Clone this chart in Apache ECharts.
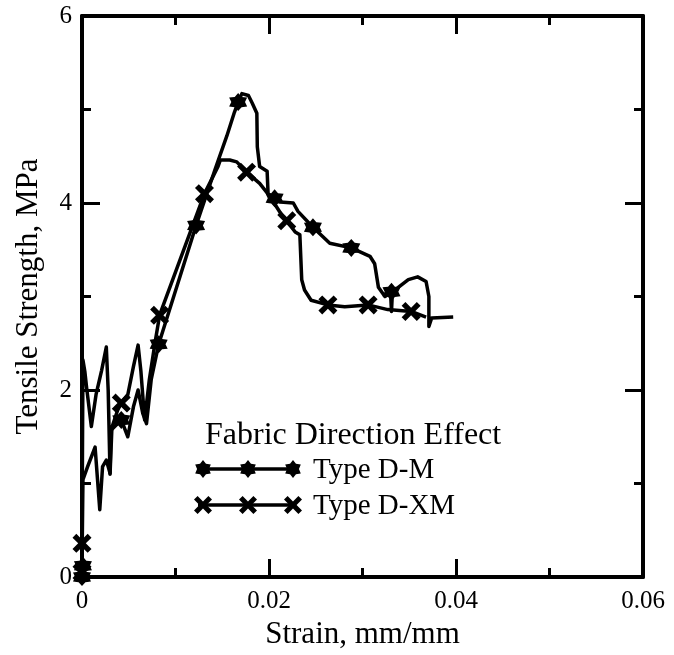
<!DOCTYPE html>
<html>
<head>
<meta charset="utf-8">
<script src="https://cdn.jsdelivr.net/npm/echarts@6/dist/echarts.min.js"></script>
<style>html,body{margin:0;padding:0;background:#fff;}#c{width:674px;height:655px;}</style>
</head>
<body>
<div id="c"></div>
<script>
// ---- data (strain mm/mm, tensile strength MPa) ----
const dmStrain = [0,0,0.0001,0.0006,0.0014,0.0019,0.0022,0.0026,0.0030,0.0031,0.0042,0.0049,0.0055,0.0060,0.0065,0.0069,0.0074,0.0082,0.0122,0.0142,0.0155,0.0163,0.0167,0.0171,0.0178,0.0182,0.0187,0.01875,0.0190,0.0198,0.0199,0.0206,0.0212,0.0226,0.0231,0.0247,0.0265,0.0288,0.0308,0.0313,0.0317,0.0324,0.0330,0.0331,0.0332,0.0349,0.0359,0.0368,0.0371,0.0371,0.0374,0.0397];
const dmStress = [0,0.12,1.04,1.18,1.39,0.72,1.18,1.25,1.11,1.57,1.68,1.50,1.82,2.00,1.75,1.64,2.11,2.49,3.76,4.35,4.72,4.97,5.08,5.17,5.15,5.07,4.96,4.60,4.39,4.34,4.10,4.05,4.01,4.00,3.91,3.74,3.57,3.52,3.43,3.35,3.10,3.00,3.04,2.84,3.05,3.18,3.21,3.16,3.00,2.68,2.77,2.78];
const dxmStrain = [0,0,0.0001,0.0003,0.0005,0.0010,0.0015,0.0021,0.0026,0.0028,0.0030,0.0032,0.0038,0.0042,0.0049,0.0055,0.0060,0.0063,0.0067,0.0072,0.0078,0.0083,0.0131,0.01455,0.0148,0.0158,0.01655,0.0176,0.0190,0.0201,0.0215,0.0219,0.0228,0.0233,0.0235,0.0238,0.0245,0.0263,0.0281,0.0306,0.0327,0.0352,0.0368];
const dxmStress = [0,0.36,2.32,2.20,2.02,1.61,1.95,2.21,2.46,2.00,1.10,1.60,1.78,1.86,1.95,2.25,2.48,2.20,1.68,2.11,2.50,2.80,4.10,4.39,4.46,4.46,4.44,4.33,4.21,4.07,3.85,3.81,3.69,3.66,3.18,3.07,2.96,2.91,2.89,2.91,2.86,2.84,2.78];
// marker positions
const dmMarkStrain = [0,0.0001,0.0042,0.0082,0.0122,0.0167,0.0206,0.0247,0.0288,0.0331];
const dmMarkStress = [0,0.12,1.68,2.49,3.76,5.08,4.05,3.74,3.52,3.05];
const dxmMarkStrain = [0,0,0.0042,0.0083,0.0131,0.0176,0.0219,0.0263,0.0306,0.0352];
const dxmMarkStress = [0.05,0.36,1.86,2.80,4.10,4.33,3.81,2.91,2.91,2.84];
// axis ticks
const xTicks = [0,0.02,0.04,0.06];
const yTicks = [0,2,4,6];
const legendTitle = 'Fabric Direction Effect';
const seriesNames = ['Type D-M','Type D-XM'];

const zip = (a,b)=>a.map((v,i)=>[v,b[i]]);
const STAR_PTS = [[0,-10],[3.3,-5.7],[8.66,-5],[6.6,0],[8.66,5],[3.3,5.7],[0,10],[-3.3,5.7],[-8.66,5],[-6.6,0],[-8.66,-5],[-3.3,-5.7]];
const CROSS_PTS = [[-10,-6],[-6,-10],[0,-4],[6,-10],[10,-6],[4,0],[10,6],[6,10],[0,4],[-6,10],[-10,6],[-4,0]];
const toPath = pts => 'path://M' + pts.map(p=>p[0]+','+p[1]).join(' L') + ' Z';
const STAR = toPath(STAR_PTS);
const CROSS = toPath(CROSS_PTS);
const FONT = '"Liberation Serif","Times New Roman",serif';

function axisCommon(showLabel){
  return {
    axisLine:{show:true,onZero:false,lineStyle:{color:'#000',width:4}},
    axisTick:{show:true,inside:true,length:18,lineStyle:{color:'#000',width:3}},
    minorTick:{show:true,splitNumber:2,length:9,lineStyle:{color:'#000',width:3}},
    splitLine:{show:false},
    minorSplitLine:{show:false},
    axisLabel:{show:showLabel,color:'#000',fontFamily:FONT,fontSize:25}
  };
}

const chart = echarts.init(document.getElementById('c'),null,{renderer:'canvas'});
const xa = (pos,show)=>Object.assign({type:'value',min:0,max:0.06,interval:0.02,position:pos,gridIndex:0},axisCommon(show));
const ya = (pos,show)=>Object.assign({type:'value',min:0,max:6,interval:2,position:pos,gridIndex:0},axisCommon(show));
const xb = xa('bottom',true);
xb.axisLabel.margin = 12;
xb.axisLabel.formatter = v=> xTicks.includes(v)? String(v):'';
xb.name = 'Strain, mm/mm';
xb.nameLocation = 'middle';
xb.nameGap = 42;
xb.nameTextStyle = {color:'#000',fontFamily:FONT,fontSize:31};
const yl = ya('left',true);
yl.axisLabel.margin = 10;
yl.axisLabel.formatter = v=> yTicks.includes(v)? String(v):'';
yl.name = 'Tensile Strength, MPa';
yl.nameLocation = 'middle';
yl.nameGap = 38;
yl.nameTextStyle = {color:'#000',fontFamily:FONT,fontSize:31};

function legendMarker(pts,cx,cy,size){
  const s = size/20;
  return {type:'polygon',shape:{points:pts.map(p=>[cx+p[0]*s,cy+p[1]*s])},style:{fill:'#000'},z:100};
}
const lgX0=198,lgX1=295,lgY=[469,505];
const graphic = [
  {type:'text',x:205,y:436,style:{text:legendTitle,font:'32px '+FONT,fill:'#000',textVerticalAlign:'middle'},z:100},
  {type:'line',shape:{x1:lgX0,y1:lgY[0],x2:lgX1,y2:lgY[0]},style:{stroke:'#000',lineWidth:3.5},z:100},
  {type:'line',shape:{x1:lgX0,y1:lgY[1],x2:lgX1,y2:lgY[1]},style:{stroke:'#000',lineWidth:3.5},z:100},
  legendMarker(STAR_PTS,203,lgY[0],18),legendMarker(STAR_PTS,248,lgY[0],18),legendMarker(STAR_PTS,293,lgY[0],18),
  legendMarker(CROSS_PTS,203,lgY[1],18),legendMarker(CROSS_PTS,248,lgY[1],18),legendMarker(CROSS_PTS,293,lgY[1],18),
  {type:'text',x:313,y:lgY[0]+1,style:{text:seriesNames[0],font:'29px '+FONT,fill:'#000',textVerticalAlign:'middle'},z:100},
  {type:'text',x:313,y:lgY[1]+1,style:{text:seriesNames[1],font:'29px '+FONT,fill:'#000',textVerticalAlign:'middle'},z:100}
];

chart.setOption({
  animation:false,
  backgroundColor:'#fff',
  grid:{left:82,top:16,width:561,height:561,containLabel:false},
  xAxis:[xb, xa('top',false)],
  yAxis:[yl, ya('right',false)],
  graphic:graphic,
  series:[
    {name:seriesNames[0],type:'line',data:zip(dmStrain,dmStress),showSymbol:false,symbol:'none',lineStyle:{color:'#000',width:3.5,join:'round'},clip:false,z:3},
    {name:seriesNames[1],type:'line',data:zip(dxmStrain,dxmStress),showSymbol:false,symbol:'none',lineStyle:{color:'#000',width:3.5,join:'round'},clip:false,z:3},
    {name:seriesNames[0]+' markers',type:'scatter',data:zip(dmMarkStrain,dmMarkStress),symbol:STAR,symbolSize:18,itemStyle:{color:'#000',opacity:1},clip:false,z:4},
    {name:seriesNames[1]+' markers',type:'scatter',data:zip(dxmMarkStrain,dxmMarkStress),symbol:CROSS,symbolSize:19,itemStyle:{color:'#000',opacity:1},clip:false,z:4}
  ]
});
</script>
</body>
</html>
